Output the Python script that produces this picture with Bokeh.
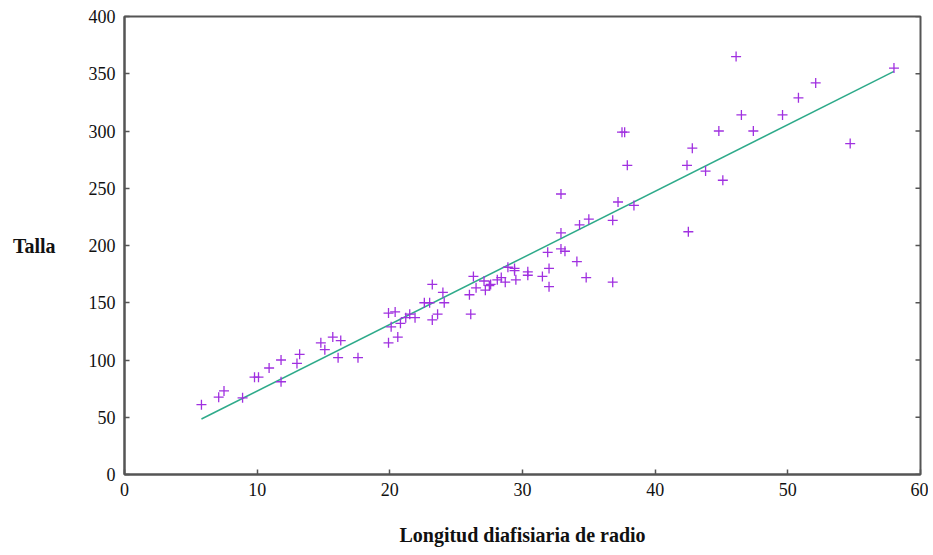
from bokeh.plotting import figure
from bokeh.models import FixedTicker, Range1d, ColumnDataSource
from bokeh.embed import file_html
from bokeh.resources import INLINE
import numpy as np

# Data (radius diaphysis length vs. height)
longitud = [5.8, 7.1, 7.5, 8.9, 9.8, 10.1, 10.9, 11.8, 11.8, 13.0, 13.2, 14.8, 15.7, 16.3,
            15.1, 16.1, 17.6, 19.9, 20.4, 20.1, 19.9, 20.6, 20.8, 21.2, 21.5, 21.9, 22.6,
            23.0, 23.2, 24.0, 24.1, 23.6, 23.2, 26.0, 26.1, 26.3, 26.5, 27.1, 27.2, 27.5,
            27.6, 28.1, 28.4, 28.7, 28.9, 29.4, 29.4, 29.5, 30.4, 30.4, 31.5, 32.0, 31.9,
            32.0, 32.9, 32.9, 33.2, 34.1, 34.8, 34.3, 35.0, 36.8, 36.8, 37.2, 38.4, 32.9,
            37.5, 37.7, 37.9, 42.4, 42.8, 43.8, 45.1, 42.5, 44.8, 47.4, 46.5, 46.1, 49.6,
            50.8, 52.1, 54.7, 58.0]
talla = [61, 67.5, 73, 67, 85, 85, 93, 100, 81, 97, 105, 115, 120, 117,
         109, 102, 102, 141, 142, 129, 115, 120, 132, 137, 140, 137, 150,
         150, 166, 159, 150, 140, 135, 157, 140, 173, 163, 169, 161, 165,
         166, 170, 172, 168, 181, 180, 178, 170, 177, 174, 173, 180, 194,
         164, 211, 197, 195, 186, 172, 218, 223, 168, 222, 238, 235, 245,
         299, 299, 270, 270, 285, 265, 257, 212, 300, 300, 314, 365, 314,
         329, 342, 289, 355]

# Regression line coefficients
fit_intercept = 14.7
fit_slope = 5.816

x_ticks = [0, 10, 20, 30, 40, 50, 60]
y_ticks = [0, 50, 100, 150, 200, 250, 300, 350, 400]

FONT = "Liberation Serif"
AXIS_COLOR = "#555555"

p = figure(width=928, height=550, output_backend="svg", toolbar_location=None,
           x_range=Range1d(x_ticks[0], x_ticks[-1]), y_range=Range1d(y_ticks[0], y_ticks[-1]),
           min_border_left=124, min_border_top=16, min_border_right=8, min_border_bottom=76)
p.grid.visible = False
p.outline_line_color = AXIS_COLOR
p.outline_line_width = 2
p.background_fill_color = "white"
p.border_fill_color = "white"

# regression line
xs = np.array([min(longitud), max(longitud)])
p.line(xs, fit_intercept + fit_slope * xs, line_color="#2eaa8a", line_width=1.5)

# points
src = ColumnDataSource(dict(x=longitud, y=talla))
p.scatter("x", "y", source=src, marker="cross", size=10, line_color="#a030e0",
          line_width=1.3)

# inward ticks on the right frame edge
p.scatter(x=[x_ticks[-1]] * len(y_ticks), y=y_ticks, marker="dash", size=10,
          line_color=AXIS_COLOR, line_width=1.5)

for ax in (p.xaxis[0], p.yaxis[0]):
    ax.axis_line_color = AXIS_COLOR
    ax.axis_line_width = 2
    ax.major_tick_in = 5
    ax.major_tick_out = 0
    ax.major_tick_line_color = AXIS_COLOR
    ax.major_tick_line_width = 1.5
    ax.minor_tick_line_color = None
    ax.major_label_text_font = FONT
    ax.major_label_text_font_size = "18px"
    ax.major_label_text_color = "#111111"
    ax.axis_label_text_font = FONT
    ax.axis_label_text_font_style = "bold"
    ax.axis_label_text_font_size = "20px"
    ax.axis_label_text_color = "#111111"

p.xaxis[0].ticker = FixedTicker(ticks=x_ticks)
p.yaxis[0].ticker = FixedTicker(ticks=y_ticks)
p.xaxis[0].axis_label = "Longitud diafisiaria de radio"
p.yaxis[0].axis_label = "Talla"
p.yaxis[0].axis_label_orientation = "horizontal"
p.xaxis[0].major_label_standoff = 8
p.yaxis[0].major_label_standoff = 9
p.xaxis[0].axis_label_standoff = 25
p.yaxis[0].axis_label_standoff = 30

open("out.html", "w").write(file_html(p, INLINE))
